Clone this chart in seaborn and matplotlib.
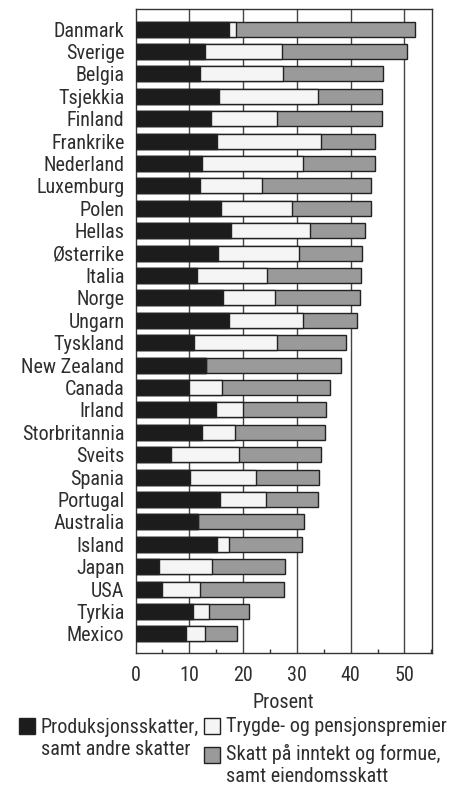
import matplotlib
matplotlib.use("Agg")
import matplotlib.pyplot as plt
from matplotlib.patches import Rectangle
from matplotlib.ticker import MultipleLocator
import seaborn as sns
import pandas as pd

countries = ["Danmark", "Sverige", "Belgia", "Tsjekkia", "Finland", "Frankrike",
             "Nederland", "Luxemburg", "Polen", "Hellas", "Østerrike", "Italia",
             "Norge", "Ungarn", "Tyskland", "New Zealand", "Canada", "Irland",
             "Storbritannia", "Sveits", "Spania", "Portugal", "Australia",
             "Island", "Japan", "USA", "Tyrkia", "Mexico"]
produksjon = [17.3, 12.9, 12.0, 15.5, 14.0, 15.2, 12.4, 11.9, 15.9, 17.8, 15.3, 11.5,
              16.3, 17.3, 10.9, 13.1, 10.0, 15.0, 12.4, 6.5, 10.1, 15.7, 11.6,
              15.2, 4.4, 4.9, 10.7, 9.3]
trygde = [1.4, 14.4, 15.4, 18.5, 12.3, 19.3, 18.7, 11.7, 13.2, 14.7, 15.0, 12.9,
          9.7, 13.9, 15.4, 0.0, 6.0, 4.9, 6.1, 12.8, 12.3, 8.6, 0.0,
          2.1, 9.8, 7.0, 3.0, 3.6]
skatt = [33.2, 23.1, 18.6, 11.9, 19.6, 10.1, 13.5, 20.2, 14.6, 10.1, 11.8, 17.5,
         15.8, 9.9, 12.8, 25.1, 20.2, 15.6, 16.8, 15.2, 11.8, 9.7, 19.8,
         13.7, 13.6, 15.7, 7.4, 5.9]
xticks = [0, 10, 20, 30, 40, 50]
legend_labels = ["Produksjonsskatter,\nsamt andre skatter",
                 "Trygde- og pensjonspremier",
                 "Skatt på inntekt og formue,\nsamt eiendomsskatt"]
xlabel = "Prosent"

df = pd.DataFrame({"land": countries, "p": produksjon, "t": trygde, "s": skatt})
df["c1"] = df["p"]
df["c2"] = df["p"] + df["t"]
df["c3"] = df["p"] + df["t"] + df["s"]

sns.set_style("white")
fam = ["Roboto Condensed", "Archivo Narrow", "DejaVu Sans"]
plt.rcParams["font.family"] = fam

col_black = "#1c1c1c"
col_white = "#f5f5f5"
col_grey = "#9a9a9a"
edge = "#222222"
txtc = "#2e2e2e"
fs = 14.5
W, H = 458, 788

fig = plt.figure(figsize=(W / 100, H / 100), dpi=100)
ax = fig.add_axes([0.296, 0.171, 0.647, 0.817])

for col, c in [("c3", col_grey), ("c2", col_white), ("c1", col_black)]:
    sns.barplot(data=df, x=col, y="land", order=countries, color=c,
                edgecolor=edge, linewidth=1.0, width=0.67, saturation=1,
                ax=ax, zorder=3)

ax.set_xlim(0, 55.1)
ax.set_ylim(27.86, -0.88)
ax.set_xticks(xticks)
ax.xaxis.set_minor_locator(MultipleLocator(5))
for x in xticks[1:]:
    ax.axvline(x, color="#444444", lw=1.0, zorder=1)
ax.tick_params(axis="x", which="major", length=0, pad=9, labelsize=fs, labelcolor=txtc)
ax.tick_params(axis="x", which="minor", direction="in", length=3, width=1,
               color="#333333", bottom=True)
ax.tick_params(axis="y", length=0, pad=8, labelsize=fs, labelcolor=txtc)
ax.set_ylabel("")
ax.set_xlabel(xlabel, fontsize=fs, color=txtc, labelpad=6)
for sp in ax.spines.values():
    sp.set_visible(True)
    sp.set_color("#333333")
    sp.set_linewidth(1.0)

# legend drawn as handles + text (positions in pixels from top-left;
# text y is the baseline of the last line)
leg_items = [
    (col_black, 19, 718, legend_labels[0], 755),
    (col_white, 204, 718, legend_labels[1], 732),
    (col_grey, 204, 747, legend_labels[2], 782),
]
for color, hx, hy, label, base in leg_items:
    fig.patches.append(Rectangle((hx / W, 1 - (hy + 16) / H), 16 / W, 16 / H,
                                 transform=fig.transFigure, facecolor=color,
                                 edgecolor=edge, lw=1.0))
    fig.text((hx + 22) / W, 1 - base / H, label, fontsize=fs, color=txtc,
             ha="left", va="baseline", linespacing=1.2)

fig.savefig("out.png", dpi=100)
